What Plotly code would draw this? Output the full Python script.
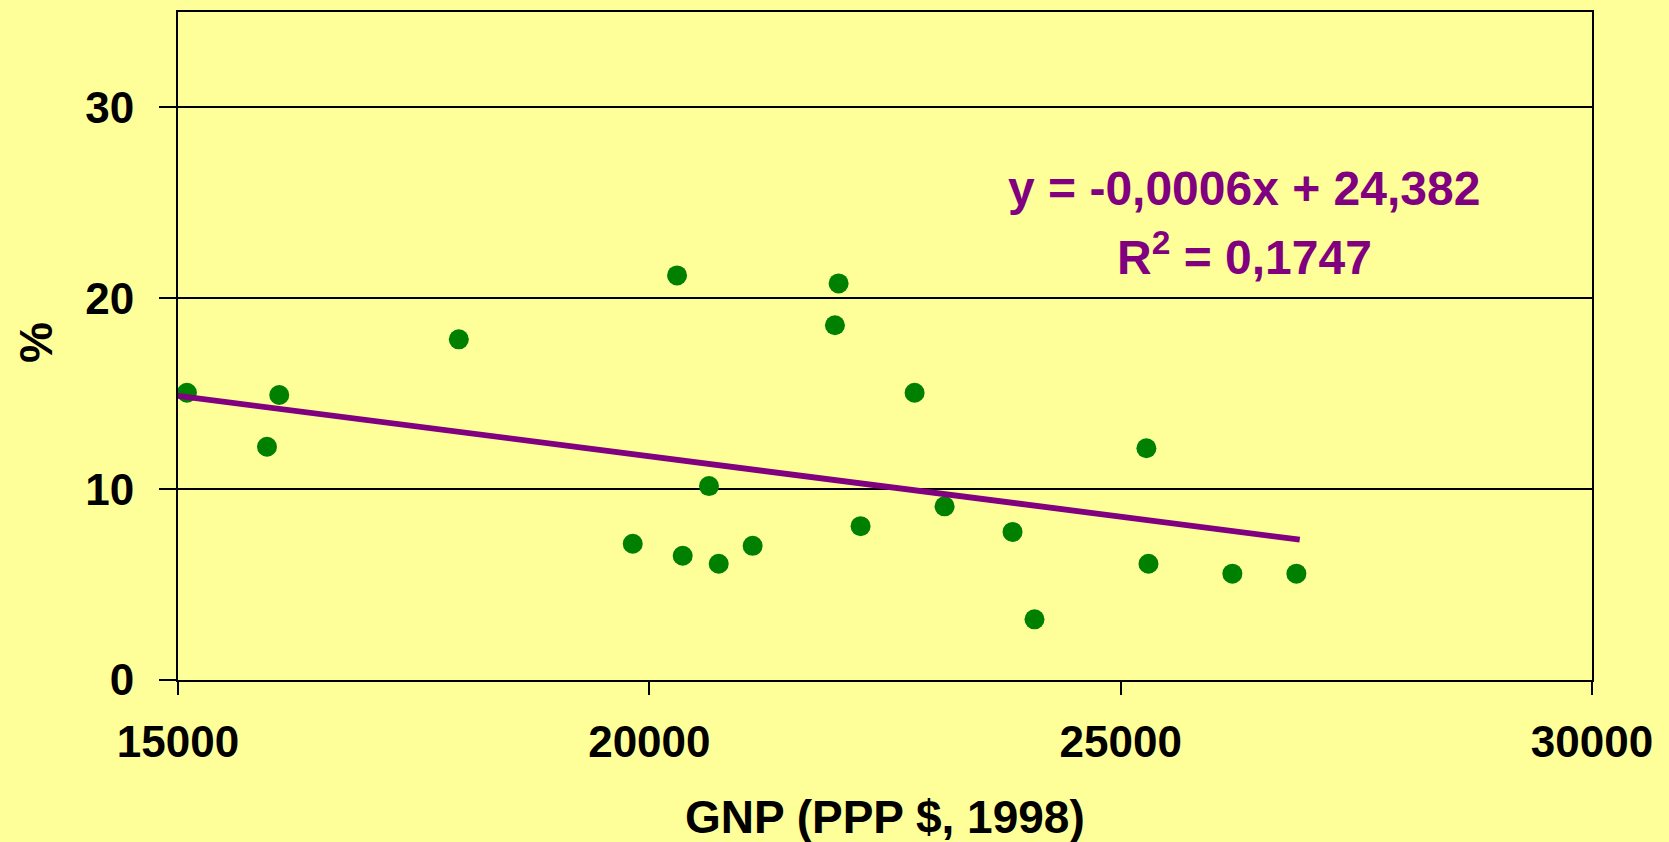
import plotly.graph_objects as go

# Data
gnp = [15095, 15944, 16074, 17979, 19824, 20294, 20354, 20633, 20736, 21096,
       21969, 22008, 22241, 22814, 23132, 23853, 24086, 25273, 25295, 26185, 26864]
pct = [15.05, 12.22, 14.93, 17.85, 7.14, 21.20, 6.51, 10.16, 6.09, 7.03,
       18.59, 20.78, 8.06, 15.05, 9.10, 7.76, 3.18, 12.14, 6.09, 5.57, 5.57]

trend_slope = -0.000633
trend_intercept = 24.382
trend_x = [15000, 26900]

x_ticks = [15000, 20000, 25000, 30000]
y_ticks = [0, 10, 20, 30]

eq_line1 = "y = -0,0006x + 24,382"
eq_line2 = "R<sup>2</sup> = 0,1747"
x_title = "GNP (PPP $, 1998)"
y_title = "%"

BG = "#FFFF99"
GREEN = "#008000"
PURPLE = "#800080"
FONT = "Liberation Sans, Arial, sans-serif"

trend_y = [trend_intercept + trend_slope * v for v in trend_x]

fig = go.Figure()
fig.add_trace(go.Scatter(
    x=gnp, y=pct, mode="markers",
    marker=dict(size=20, color=GREEN, line=dict(width=0)),
    showlegend=False, hoverinfo="skip"))
fig.add_trace(go.Scatter(
    x=trend_x, y=trend_y, mode="lines",
    line=dict(color=PURPLE, width=5.8),
    showlegend=False, hoverinfo="skip"))

fig.add_annotation(x=26309, y=25.75, xref="x", yref="y", text=eq_line1,
                   showarrow=False, xanchor="center", yanchor="middle",
                   font=dict(family=FONT, size=48, color=PURPLE, weight="bold"))
fig.add_annotation(x=26309, y=22.3, xref="x", yref="y", text=eq_line2,
                   showarrow=False, xanchor="center", yanchor="middle",
                   font=dict(family=FONT, size=48, color=PURPLE, weight="bold"))

# axis titles as annotations (exact placement)
fig.add_annotation(x=0.5, y=-0.2055, xref="paper", yref="paper", text=x_title,
                   showarrow=False, xanchor="center", yanchor="middle",
                   font=dict(family=FONT, size=46, color="black", weight="bold"))
fig.add_annotation(x=-0.1005, y=0.506, xref="paper", yref="paper", text=y_title,
                   textangle=-90, showarrow=False, xanchor="center", yanchor="middle",
                   font=dict(family=FONT, size=46, color="black", weight="bold"))

fig.update_layout(
    width=1669, height=842,
    paper_bgcolor=BG, plot_bgcolor=BG,
    margin=dict(l=178, r=77, t=10, b=162, pad=0),
    font=dict(family=FONT, color="black", weight="bold"),
    xaxis=dict(
        range=[15000, 30000], tickvals=x_ticks, ticktext=[str(v) for v in x_ticks],
        showgrid=False, zeroline=False,
        showline=True, linecolor="black", linewidth=2, mirror=True,
        ticks="outside", ticklen=13, tickwidth=2, tickcolor="black",
        tickfont=dict(family=FONT, size=44, color="black", weight="bold"),
        ticklabelstandoff=9,
    ),
    yaxis=dict(
        range=[0, 35], tickvals=y_ticks, ticktext=[str(v) for v in y_ticks],
        showgrid=True, gridcolor="black", gridwidth=2, zeroline=False,
        showline=True, linecolor="black", linewidth=2, mirror=True,
        ticks="outside", ticklen=17, tickwidth=2, tickcolor="black",
        tickfont=dict(family=FONT, size=44, color="black", weight="bold"),
        ticklabelstandoff=16,
    ),
)

fig.write_html("out.html",
               config={"displayModeBar": False},
               post_script="document.body.style.margin='0';document.body.style.overflow='hidden';")
